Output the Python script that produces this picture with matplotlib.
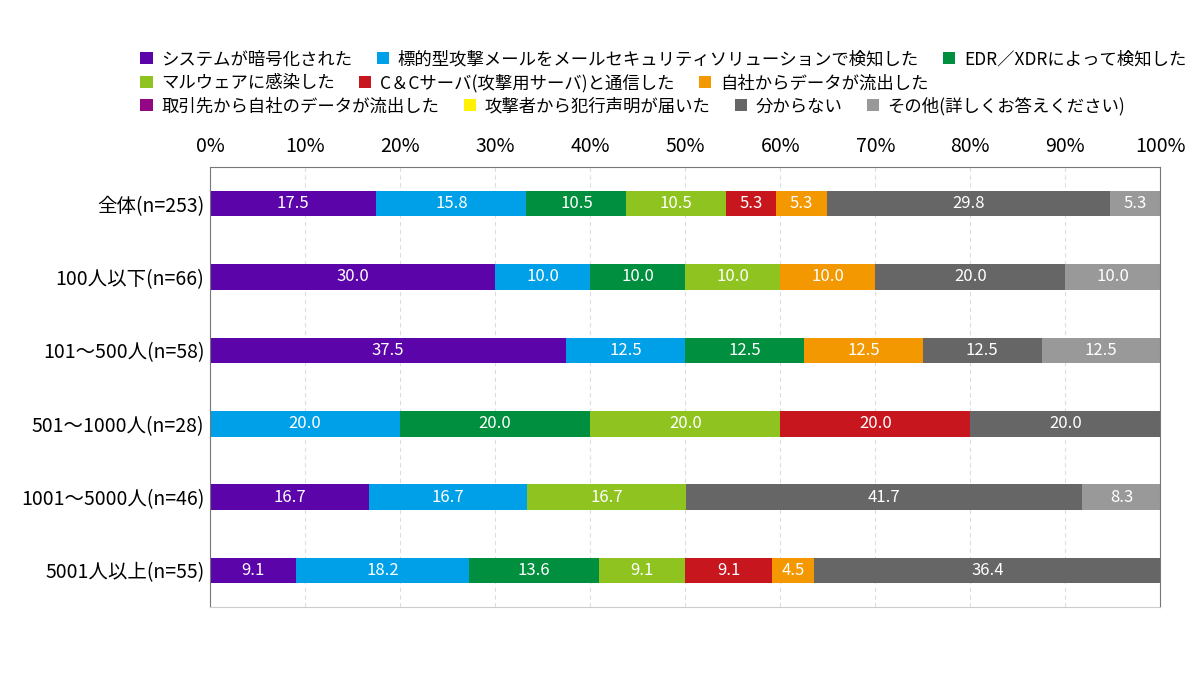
import numpy as np
import matplotlib
matplotlib.use("Agg")
import matplotlib.pyplot as plt

plt.rcParams['font.family'] = ['Noto Sans CJK JP', 'DejaVu Sans']

# データ
groups = ["全体(n=253)", "100人以下(n=66)", "101～500人(n=58)", "501～1000人(n=28)",
          "1001～5000人(n=46)", "5001人以上(n=55)"]
series = ["システムが暗号化された", "標的型攻撃メールをメールセキュリティソリューションで検知した",
          "EDR／XDRによって検知した", "マルウェアに感染した", "C＆Cサーバ(攻撃用サーバ)と通信した",
          "自社からデータが流出した", "取引先から自社のデータが流出した", "攻撃者から犯行声明が届いた",
          "分からない", "その他(詳しくお答えください)"]
colors = ["#5b04aa", "#00a0e9", "#008f3e", "#8fc31f", "#c8161e", "#f39800",
          "#920783", "#fff100", "#666666", "#999999"]
values = [
    [17.5, 30.0, 37.5, 0.0, 16.7, 9.1],
    [15.8, 10.0, 12.5, 20.0, 16.7, 18.2],
    [10.5, 10.0, 12.5, 20.0, 0.0, 13.6],
    [10.5, 10.0, 0.0, 20.0, 16.7, 9.1],
    [5.3, 0.0, 0.0, 20.0, 0.0, 9.1],
    [5.3, 10.0, 12.5, 0.0, 0.0, 4.5],
    [0.0, 0.0, 0.0, 0.0, 0.0, 0.0],
    [0.0, 0.0, 0.0, 0.0, 0.0, 0.0],
    [29.8, 20.0, 12.5, 20.0, 41.7, 36.4],
    [5.3, 10.0, 12.5, 0.0, 8.3, 0.0],
]

fig = plt.figure(figsize=(12, 6.76), dpi=100)
ax = fig.add_axes([0.175, 0.102, 0.792, 0.651])

y = np.arange(len(groups))
left = np.zeros(len(groups))
handles = []
for name, col, vals in zip(series, colors, values):
    vals = np.array(vals)
    bars = ax.barh(y, vals, left=left, height=0.35, color=col, label=name)
    ax.bar_label(bars, labels=[f"{v:.1f}" if v > 0 else "" for v in vals],
                 label_type="center", color="white", fontsize=12)
    handles.append(bars)
    left += vals

ax.set_xlim(0, 100)
ax.set_ylim(len(groups) - 0.5, -0.5)
ax.set_yticks(y)
ax.set_yticklabels(groups, fontsize=14)
ax.set_xticks(np.arange(0, 101, 10))
ax.set_xticklabels([f"{t}%" for t in range(0, 101, 10)], fontsize=14)
ax.xaxis.tick_top()
ax.tick_params(axis="both", length=0)
ax.tick_params(axis="x", pad=7)
ax.tick_params(axis="y", pad=4)
ax.grid(axis="x", linestyle=(0, (4, 3)), color="#dddddd", linewidth=0.8)
ax.set_axisbelow(True)
for s in ["left", "right", "top"]:
    ax.spines[s].set_color("#777777")
ax.spines["bottom"].set_color("#cccccc")

# 凡例（3行）
rows = [[0, 1, 2], [3, 4, 5], [6, 7, 8, 9]]
row_y = [0.912, 0.877, 0.843]
for idx, ry in zip(rows, row_y):
    fig.legend([handles[i] for i in idx], [series[i] for i in idx],
               loc="center left", bbox_to_anchor=(0.117, ry), ncol=len(idx),
               frameon=False, fontsize=12.5, handlelength=0.7, handleheight=0.7,
               handletextpad=0.5, columnspacing=1.4, borderpad=0, borderaxespad=0)

fig.savefig("out.png", dpi=100)
